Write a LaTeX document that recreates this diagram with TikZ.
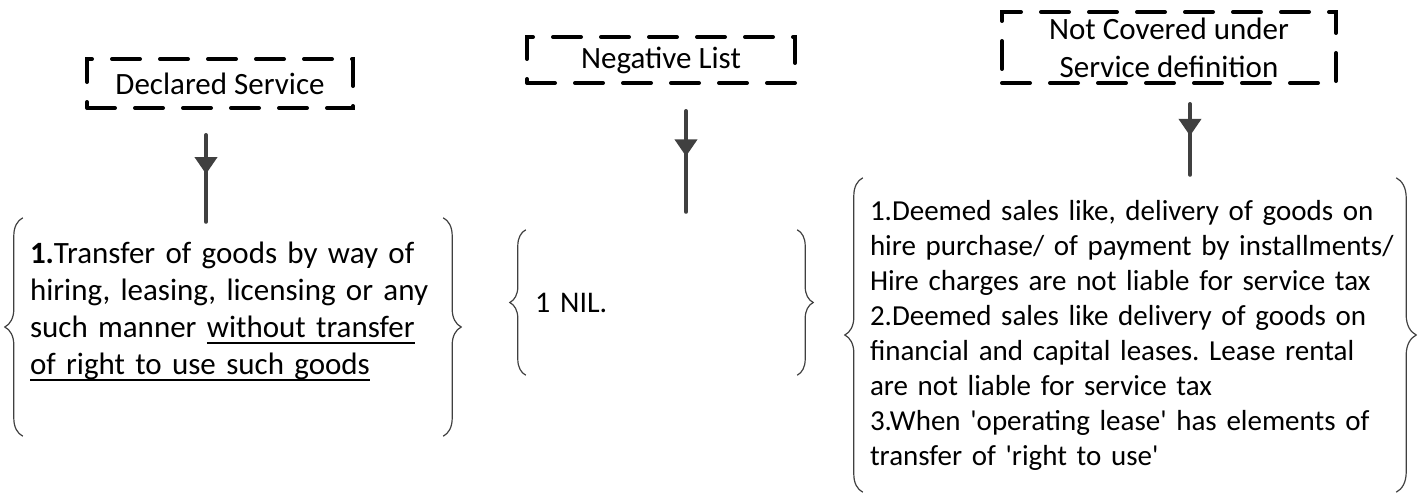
\documentclass[tikz,border=0pt]{standalone}
\usepackage{fontspec}
\setmainfont{Carlito}
\frenchspacing
\hyphenpenalty=10000
\hbadness=10000
\hfuzz=100pt
\newcommand{\ulinetext}[1]{\leavevmode\setbox0\hbox{#1}\rlap{\rule[-6.5pt]{\wd0}{2pt}}\box0}
\newcommand{\sq}{\XeTeXglyph\XeTeXcharglyph"27\relax}
\usetikzlibrary{arrows.meta,positioning,calc,decorations.pathreplacing,decorations.markings}

\begin{document}
\begin{tikzpicture}[x=1pt,y=-1pt,
    headbox/.style={draw=black,line width=4pt,dash pattern=on 28pt off 20pt,
        line cap=round,align=center,inner sep=0pt,
        font=\fontsize{31pt}{38pt}\selectfont},
    listbox/.style={align=left,inner xsep=7pt,inner ysep=0pt,
        font=\fontsize{31pt}{37pt}\selectfont},
    listbrace/.style={decorate,decoration={brace,amplitude=18pt},
        draw=black!75,line width=1.2pt},
    flowarrow/.style={draw=black!75,line width=4pt,line cap=round,postaction={decorate},
        decoration={markings,mark=at position 0.45 with
        {\arrow{Triangle[length=17pt,width=22pt]}}}}
]
\useasboundingbox (0,0) rectangle (1421,495);
% headings
\node[headbox,minimum width=266pt,minimum height=49pt] (declared) at (220,83.5)
    {Declared Service};
\node[headbox,minimum width=268pt,minimum height=46pt] (negative) at (661,60)
    {Negative List};
\node[headbox,minimum width=334pt,minimum height=71pt] (notcovered) at (1169,47.5)
    {Not Covered under\\Service definition};
% lists
\node[listbox,text width=406pt,minimum height=218pt] (transfer) at (233,327)
    {\textbf{1.}Transfer of goods by way of\\hiring, leasing, licensing or any\\
     such manner \ulinetext{without transfer}\\\ulinetext{of right to use such goods}\\\mbox{}};
\node[listbox,inner xsep=9pt,text width=253pt,minimum height=145pt,
    font=\fontsize{30pt}{36pt}\selectfont] (nil) at (661.5,302.5) {1 NIL.};
\node[listbox,text width=519pt,minimum height=314pt,
    font=\fontsize{29pt}{35pt}\selectfont] (notliable) at (1129.5,335)
    {1.Deemed sales like, delivery of goods on\\\mbox{hire purchase/ of payment by installments/}\\
     Hire charges are not liable for service tax\\2.Deemed sales like delivery of goods on\\
     financial and capital leases. Lease rental\\are not liable for service tax\\
     3.When \sq operating lease\sq{} has elements of\\transfer of \sq right to use\sq};
% braces
\draw[listbrace] (transfer.south west) -- (transfer.north west);
\draw[listbrace] (transfer.north east) -- (transfer.south east);
\draw[listbrace,decoration={brace,amplitude=16pt}] (nil.south west) -- (nil.north west);
\draw[listbrace,decoration={brace,amplitude=16pt}] (nil.north east) -- (nil.south east);
\draw[listbrace] (notliable.south west) -- (notliable.north west);
\draw[listbrace,decoration={brace,amplitude=20pt}] (notliable.north east) -- (notliable.south east);
% arrows
\draw[flowarrow] ([xshift=-14pt,yshift=-25pt]declared.south) -- ([xshift=-27pt,yshift=-4pt]transfer.north);
\draw[flowarrow] ([xshift=25pt,yshift=-26pt]negative.south) -- ([xshift=24.5pt,yshift=18pt]nil.north);
\draw[flowarrow] ([xshift=21pt,yshift=-19pt]notcovered.south) -- ([xshift=60.5pt,yshift=3pt]notliable.north);
\end{tikzpicture}
\end{document}
